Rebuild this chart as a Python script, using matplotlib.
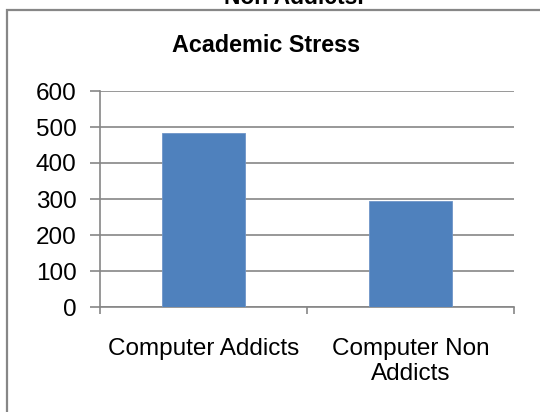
import matplotlib
matplotlib.use("Agg")
import matplotlib.pyplot as plt
from matplotlib.patches import Rectangle

plt.rcParams['font.family'] = ['Liberation Sans', 'DejaVu Sans']

categories = ["Computer Addicts", "Computer Non\nAddicts"]
values = [483, 294]
yticks = [0, 100, 200, 300, 400, 500, 600]

W, H = 540, 412
fig = plt.figure(figsize=(W / 100, H / 100), dpi=100)

# outer chart frame (extends past right and bottom edges)
fig.patches.append(Rectangle((7 / W, -0.2), 2.0, 1.2 - 10 / H,
                             transform=fig.transFigure, fill=False,
                             edgecolor='#878787', linewidth=1.6, zorder=0))

fig.text(294 / W, 1 - 4 / H, "Non Addicts.", ha='center', va='baseline',
         fontsize=16.5, fontweight='bold', color='black')
fig.text(266 / W, 1 - 52 / H, "Academic Stress", ha='center', va='baseline',
         fontsize=16.8, fontweight='bold', color='black')

ax = fig.add_axes([100 / W, 105 / H, 414 / W, 216 / H])
x = list(range(len(categories)))
ax.bar(x, values, width=0.4, color='#4F81BD', edgecolor='#6E95C8',
       linewidth=0.6, zorder=3)

ax.set_xlim(-0.5, len(categories) - 0.5)
ax.set_ylim(0, 600)
ax.set_yticks(yticks)
ax.set_yticklabels([str(v) for v in yticks], fontsize=17.5)
ax.yaxis.grid(True, color='#868686', linewidth=1.2, zorder=0)
ax.set_axisbelow(True)

ax.set_xticks([-0.5, 0.5, 1.5])
ax.set_xticklabels([])
ax.set_xticks(x, minor=True)
ax.set_xticklabels(categories, minor=True, fontsize=17.5, linespacing=1.2)
ax.tick_params(axis='x', which='minor', length=0, pad=22)
ax.tick_params(axis='x', which='major', direction='out', length=5,
               width=1.2, color='#868686')
ax.tick_params(axis='y', direction='out', length=7, width=1.2,
               color='#868686', pad=10)

for s in ['top', 'right']:
    ax.spines[s].set_visible(False)
for s in ['left', 'bottom']:
    ax.spines[s].set_color('#868686')
    ax.spines[s].set_linewidth(1.2)

fig.savefig("out.png", dpi=100)
